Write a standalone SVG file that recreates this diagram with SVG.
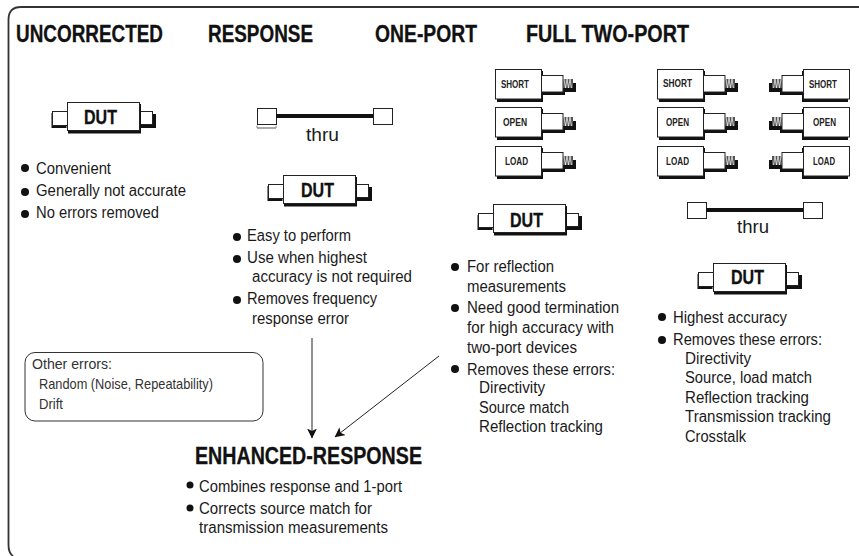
<svg xmlns="http://www.w3.org/2000/svg" width="859" height="556" viewBox="0 0 859 556">
<style>
text{font-family:"Liberation Sans",Arial,sans-serif;fill:#1a1a1a}
.h{font-size:23px;font-weight:700;fill:#111;stroke:#111;stroke-width:.3}
.b{font-size:16px}
.d{font-size:20px;font-weight:700;fill:#111;stroke:#111;stroke-width:.3}
.s{font-size:10.500px;font-weight:700;fill:#222}
.t{font-size:19px}
.o{font-size:14.500px;fill:#333}
.w{fill:#fff;stroke:#222;stroke-width:1}
.k{fill:#111}
.g{fill:#555}
.f{fill:none;stroke:#333;stroke-width:1.800}
</style>
<defs>
<marker id="a" markerWidth="10" markerHeight="10" refX="9.500" refY="5" orient="auto" markerUnits="userSpaceOnUse"><path d="M0 0L10 5L0 10L2.500 5z" fill="#111"/></marker>
<g id="dut">
<rect class="k" x="-15.500" y="11" width="15" height="15"/>
<rect class="w" x="-14.500" y="9.500" width="15" height="14"/>
<rect class="k" x="73" y="12" width="16" height="14"/>
<rect class="w" x="72.500" y="9.500" width="13" height="13"/>
<rect class="k" x="1" y="2" width="73" height="29.500"/>
<rect class="w" x=".5" y=".5" width="72" height="28" stroke-width="1.200"/>
</g>
<g id="cal">
<rect class="k" x="2" y="2" width="46" height="31"/>
<rect class="w" x=".5" y=".5" width="46" height="29.500"/>
<rect class="k" x="47" y="10" width="23" height="16"/>
<rect class="w" x="46.500" y="6.500" width="21.500" height="16.500"/>
<rect class="k" x="70" y="14" width="11" height="9"/>
<rect class="g" x="68" y="10" width="10" height="9"/>
<path d="M69 10l1.500 9l1.500-9l1.500 9l1.500-9l1.500 9" fill="none" stroke="#fff" stroke-width=".7"/>
</g>
<g id="thru">
<rect class="w" x=".5" y=".5" width="19" height="16"/>
<rect class="k" x="19" y="6" width="97" height="4"/>
<rect class="w" x="116.500" y=".5" width="19" height="16"/>
</g>
</defs>
<g id="frame"><path class="f" d="M859 7H21Q8.500 7 8.500 20V545Q8.500 553 13 556"/></g>
<g id="headers">
<text class="h" x="16" y="42" textLength="147" lengthAdjust="spacingAndGlyphs">UNCORRECTED</text>
<text class="h" x="208" y="42" textLength="105" lengthAdjust="spacingAndGlyphs">RESPONSE</text>
<text class="h" x="375" y="42" textLength="102" lengthAdjust="spacingAndGlyphs">ONE-PORT</text>
<text class="h" x="526" y="42" textLength="163" lengthAdjust="spacingAndGlyphs">FULL TWO-PORT</text>
</g>
<g id="uncorrected">
<use href="#dut" x="67" y="102"/><text class="d" x="84" y="124" textLength="33" lengthAdjust="spacingAndGlyphs">DUT</text>
<circle cx="25" cy="168" r="4" class="k"/><text class="b" x="36" y="174" textLength="75" lengthAdjust="spacingAndGlyphs">Convenient</text>
<circle cx="25" cy="192" r="4" class="k"/><text class="b" x="36" y="196" textLength="150" lengthAdjust="spacingAndGlyphs">Generally not accurate</text>
<circle cx="25" cy="214" r="4" class="k"/><text class="b" x="36" y="218" textLength="123" lengthAdjust="spacingAndGlyphs">No errors removed</text>
</g>
<g id="response">
<use href="#thru" x="257" y="108"/><path d="M257 128H276" stroke="#555" stroke-width="1"/><path d="M257 125.500V128M276 125.500V128" stroke="#888" stroke-width="1"/>
<text class="t" x="306" y="141" textLength="33" lengthAdjust="spacingAndGlyphs">thru</text>
<use href="#dut" x="283" y="175"/><text class="d" x="301" y="197" textLength="33" lengthAdjust="spacingAndGlyphs">DUT</text>
<circle cx="237" cy="237" r="4" class="k"/><text class="b" x="247" y="241" textLength="104" lengthAdjust="spacingAndGlyphs">Easy to perform</text>
<circle cx="237" cy="259" r="4" class="k"/><text class="b" x="247" y="263" textLength="120" lengthAdjust="spacingAndGlyphs">Use when highest</text>
<text class="b" x="252" y="282" textLength="160" lengthAdjust="spacingAndGlyphs">accuracy is not required</text>
<circle cx="237" cy="300" r="4" class="k"/><text class="b" x="247" y="304" textLength="130" lengthAdjust="spacingAndGlyphs">Removes frequency</text>
<text class="b" x="252" y="324" textLength="97" lengthAdjust="spacingAndGlyphs">response error</text>
</g>
<g id="one-port">
<use href="#cal" x="495" y="69"/><text class="s" x="501" y="88" textLength="28" lengthAdjust="spacingAndGlyphs">SHORT</text>
<use href="#cal" x="495" y="107"/><text class="s" x="503" y="126" textLength="24" lengthAdjust="spacingAndGlyphs">OPEN</text>
<use href="#cal" x="495" y="146"/><text class="s" x="505" y="165" textLength="23" lengthAdjust="spacingAndGlyphs">LOAD</text>
<use href="#dut" x="493" y="204"/><text class="d" x="510" y="227" textLength="33" lengthAdjust="spacingAndGlyphs">DUT</text>
<circle cx="455" cy="267" r="4" class="k"/><text class="b" x="467" y="272" textLength="87" lengthAdjust="spacingAndGlyphs">For reflection</text>
<text class="b" x="467" y="292" textLength="99" lengthAdjust="spacingAndGlyphs">measurements</text>
<circle cx="455" cy="308" r="4" class="k"/><text class="b" x="467" y="313" textLength="152" lengthAdjust="spacingAndGlyphs">Need good termination</text>
<text class="b" x="467" y="333" textLength="147" lengthAdjust="spacingAndGlyphs">for high accuracy with</text>
<text class="b" x="467" y="353" textLength="110" lengthAdjust="spacingAndGlyphs">two-port devices</text>
<circle cx="455" cy="369" r="4" class="k"/><text class="b" x="467" y="375" textLength="148" lengthAdjust="spacingAndGlyphs">Removes these errors:</text>
<text class="b" x="479" y="393" textLength="66" lengthAdjust="spacingAndGlyphs">Directivity</text>
<text class="b" x="479" y="413" textLength="90" lengthAdjust="spacingAndGlyphs">Source match</text>
<text class="b" x="479" y="432" textLength="124" lengthAdjust="spacingAndGlyphs">Reflection tracking</text>
</g>
<g id="full-two-port">
<use href="#cal" x="657" y="69"/><text class="s" x="663" y="87" textLength="29" lengthAdjust="spacingAndGlyphs">SHORT</text>
<use href="#cal" x="657" y="107"/><text class="s" x="666" y="126" textLength="23" lengthAdjust="spacingAndGlyphs">OPEN</text>
<use href="#cal" x="657" y="146"/><text class="s" x="666" y="165" textLength="23" lengthAdjust="spacingAndGlyphs">LOAD</text>
<use href="#cal" transform="translate(850,69) scale(-1,1)"/><text class="s" x="809" y="88" textLength="28" lengthAdjust="spacingAndGlyphs">SHORT</text>
<use href="#cal" transform="translate(850,107) scale(-1,1)"/><text class="s" x="813" y="126" textLength="23" lengthAdjust="spacingAndGlyphs">OPEN</text>
<use href="#cal" transform="translate(850,146) scale(-1,1)"/><text class="s" x="813" y="165" textLength="22" lengthAdjust="spacingAndGlyphs">LOAD</text>
<use href="#thru" x="687" y="202"/><text class="t" x="737" y="233" textLength="32" lengthAdjust="spacingAndGlyphs">thru</text>
<use href="#dut" x="713" y="263"/><text class="d" x="731" y="284" textLength="33" lengthAdjust="spacingAndGlyphs">DUT</text>
<circle cx="662" cy="317" r="4" class="k"/><text class="b" x="673" y="323" textLength="114" lengthAdjust="spacingAndGlyphs">Highest accuracy</text>
<circle cx="662" cy="340" r="4" class="k"/><text class="b" x="673" y="345" textLength="149" lengthAdjust="spacingAndGlyphs">Removes these errors:</text>
<text class="b" x="685" y="364" textLength="66" lengthAdjust="spacingAndGlyphs">Directivity</text>
<text class="b" x="685" y="383" textLength="127" lengthAdjust="spacingAndGlyphs">Source, load match</text>
<text class="b" x="685" y="403" textLength="124" lengthAdjust="spacingAndGlyphs">Reflection tracking</text>
<text class="b" x="685" y="422" textLength="146" lengthAdjust="spacingAndGlyphs">Transmission tracking</text>
<text class="b" x="685" y="442" textLength="61" lengthAdjust="spacingAndGlyphs">Crosstalk</text>
</g>
<g id="other-errors">
<rect x="25" y="352.500" width="238" height="68.500" rx="10" fill="#fff" stroke="#333" stroke-width="1"/>
<text class="o" x="32" y="369" textLength="80" lengthAdjust="spacingAndGlyphs">Other errors:</text>
<text class="o" x="39" y="389" textLength="174" lengthAdjust="spacingAndGlyphs">Random (Noise, Repeatability)</text>
<text class="o" x="39" y="409" textLength="24" lengthAdjust="spacingAndGlyphs">Drift</text>
</g>
<g id="enhanced-response">
<text class="h" x="195" y="464" textLength="227" lengthAdjust="spacingAndGlyphs">ENHANCED-RESPONSE</text>
<circle cx="190" cy="485" r="3.500" class="k"/><text class="b" x="199" y="492" textLength="203" lengthAdjust="spacingAndGlyphs">Combines response and 1-port</text>
<circle cx="190" cy="508" r="3.500" class="k"/><text class="b" x="199" y="514" textLength="173" lengthAdjust="spacingAndGlyphs">Corrects source match for</text>
<text class="b" x="199" y="533" textLength="189" lengthAdjust="spacingAndGlyphs">transmission measurements</text>
</g>
<g id="connectors" fill="none" stroke="#222" stroke-width="1">
<path d="M312 338V438" marker-end="url(#a)"/>
<path d="M439 356L335 437" marker-end="url(#a)"/>
</g>
</svg>
